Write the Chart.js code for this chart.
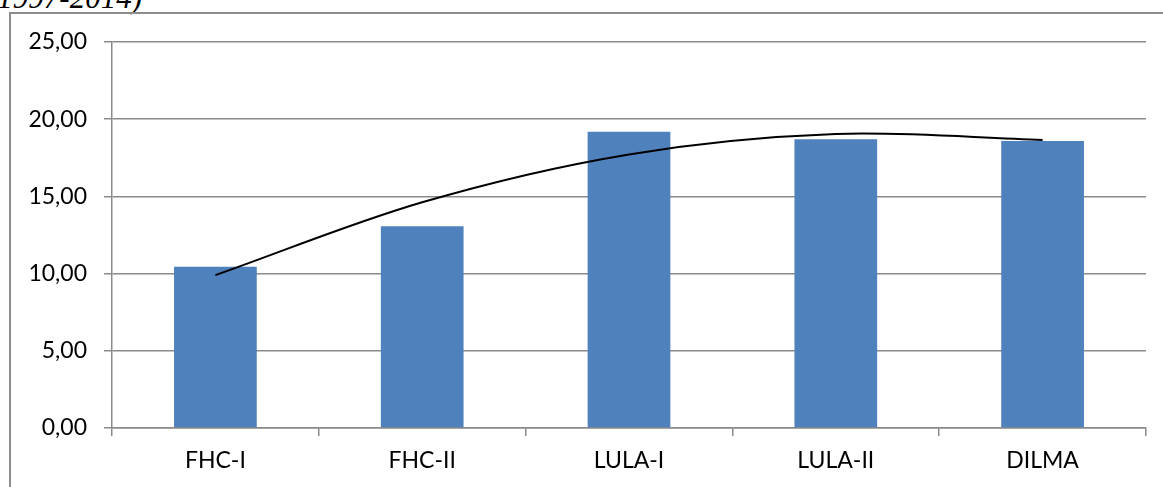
<!DOCTYPE html>
<html>
<head>
<meta charset="utf-8">
<script src="https://cdn.jsdelivr.net/npm/chart.js@4/dist/chart.umd.min.js"></script>
<style>
  html, body { margin: 0; padding: 0; background: #ffffff; }
  body { width: 1163px; height: 487px; position: relative; overflow: hidden; }
  #caption {
    position: absolute; left: -20px; top: -18px; width: 162px;
    text-align: right; white-space: nowrap;
    font: italic 31px "Liberation Serif", "Times New Roman", serif;
    line-height: 31px; color: #000;
  }
  #frame {
    position: absolute; left: 9px; top: 12px; width: 1200px; height: 520px;
    border: 2px solid #8c8c8c; box-sizing: border-box;
  }
  #wrap { position: absolute; left: 0; top: 0; width: 1163px; height: 487px; }
</style>
</head>
<body>
<div id="caption">(1997-2014)</div>
<div id="frame"></div>
<div id="wrap"><canvas id="chart" width="1163" height="487"></canvas></div>
<script>
// Governments (x axis categories)
const categories = ['FHC-I', 'FHC-II', 'LULA-I', 'LULA-II', 'DILMA'];
// Bar heights per government
const barValues = [10.45, 13.07, 19.19, 18.70, 18.59];
// Polynomial trend line, read at each category centre
const trendValues = [9.90, 14.62, 17.72, 19.04, 18.66];
// Value axis ticks and their printed labels
const yTicks = [0, 5, 10, 15, 20, 25];
const yTickLabels = ['0,00', '5,00', '10,00', '15,00', '20,00', '25,00'];

const gridGray = '#8a8a8a';
const labelFont = { family: 'Lato, "Open Sans", sans-serif', size: 23 };

new Chart(document.getElementById('chart'), {
  type: 'bar',
  data: {
    labels: categories,
    datasets: [
      {
        type: 'line',
        data: trendValues,
        borderColor: '#000000',
        borderWidth: 2,
        pointRadius: 0,
        tension: 0.33,
        fill: false,
        order: 0
      },
      {
        type: 'bar',
        data: barValues,
        backgroundColor: '#4f81bd',
        borderWidth: 0,
        barPercentage: 0.4,
        categoryPercentage: 1.0,
        order: 1
      }
    ]
  },
  options: {
    responsive: false,
    animation: false,
    devicePixelRatio: 1,
    layout: { padding: { left: 0, right: 17, top: 42, bottom: 0 } },
    plugins: { legend: { display: false }, tooltip: { enabled: false } },
    scales: {
      x: {
        offset: true,
        grid: {
          offset: true,
          drawOnChartArea: false,
          drawTicks: true,
          tickLength: 8,
          color: gridGray,
          lineWidth: 1.5
        },
        border: { display: true, color: gridGray, width: 1.5 },
        ticks: { color: '#000', font: labelFont, padding: 11, maxRotation: 0, autoSkip: false },
        afterFit: (scale) => { scale.height = 59; }
      },
      y: {
        min: 0,
        max: 25,
        afterBuildTicks: (scale) => { scale.ticks = yTicks.map(v => ({ value: v })); },
        grid: {
          drawOnChartArea: true,
          drawTicks: true,
          tickLength: 8,
          color: gridGray,
          lineWidth: 1.5
        },
        border: { display: true, color: gridGray, width: 1.5 },
        ticks: {
          color: '#000',
          font: labelFont,
          padding: 17,
          autoSkip: false,
          callback: (value) => yTickLabels[yTicks.indexOf(value)]
        },
        afterFit: (scale) => { scale.width = 112; }
      }
    }
  }
});
</script>
</body>
</html>
